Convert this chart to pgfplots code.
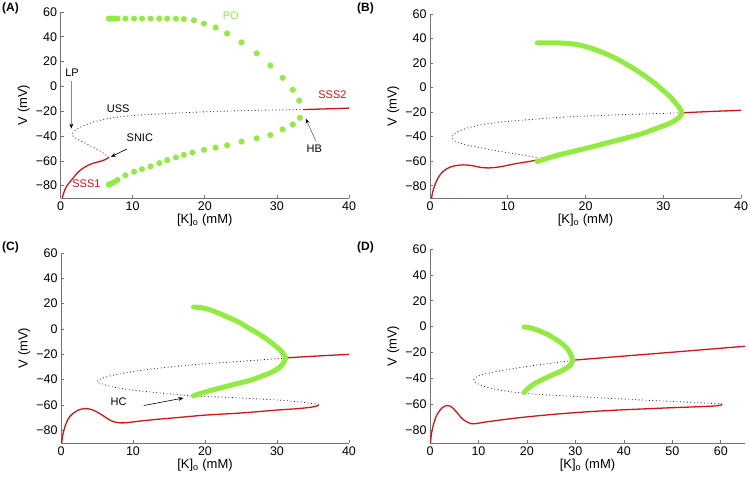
\documentclass[border=0pt]{standalone}
\usepackage{fontspec}
\setmainfont{Liberation Sans}
\usepackage{pgfplots}
\pgfplotsset{compat=1.18}
\usetikzlibrary{arrows.meta}
\definecolor{sred}{RGB}{205,22,22}
\definecolor{pogreen}{RGB}{145,235,65}
\newcommand{\fs}{\fontsize{12.5bp}{14bp}\selectfont}
\newcommand{\fl}{\fontsize{13bp}{15bp}\selectfont}
\newcommand{\fa}{\fontsize{11bp}{13bp}\selectfont}
\pgfplotsset{
 panel/.style={
  scale only axis,
  axis lines*=left,
  axis line style={-, black!55, line width=0.7bp},
  every tick/.style={black!55, line width=0.6bp},
  tick align=inside,
  major tick length=3bp,
  ymin=-90, ymax=60,
  ytick={-80,-60,-40,-20,0,20,40,60},
  yticklabels={−80,−60,−40,−20,0,20,40,60},
  tick label style={font=\fs},
  label style={font=\fl},
  xlabel style={yshift=3bp},
  ylabel style={yshift=-1bp},
  /pgf/number format/assume math mode=true,
  xlabel={[K]\textsubscript{o} (mM)},
  ylabel={V (mV)},
  clip=false,
  anchor=south west,
 },
 uss/.style={black!85, line width=0.85bp, dash pattern=on 0.85bp off 2.6bp, smooth},
 ssr/.style={sred, line width=1.3bp, smooth},
 pomark/.style={color=pogreen, only marks, mark=*, mark size=2.8bp, mark options={draw=none, fill=pogreen}},
 poband/.style={color=pogreen, line width=5bp, line cap=round, line join=round, smooth},
}
\begin{document}
\begin{tikzpicture}
\useasboundingbox (0,0) rectangle (750bp,-479bp);
% ---------------- (A)
\begin{axis}[panel, at={(60.5bp,-198bp)}, width=288.5bp, height=186bp,
  xmin=0, xmax=40, xtick={0,10,20,30,40}]
\addplot[uss] coordinates {(6.7,-57.3)(5.6,-52.5)(4.5,-49)(3.5,-46)(2.5,-43)(1.8,-40.5)(1.6,-39)(1.9,-36)(2.6,-33.5)(3.5,-31)(5,-28)(7,-25.5)(10,-23.5)(15,-21.8)(20,-20.5)(25,-19.6)(30,-19)(33.6,-18.7)};
\addplot[ssr] coordinates {(0.25,-90)(0.5,-85)(0.9,-80)(1.6,-75)(2.3,-70)(3,-66.5)(3.7,-64)(4.5,-62)(5.5,-60.5)(6.2,-59)(6.7,-57.3)};
\addplot[ssr] coordinates {(33.6,-18.7)(37,-18.1)(40,-17.5)};
\addplot[pomark] coordinates {(6.7,54.7)(7.0,54.7)(7.3,54.7)(7.6,54.7)(7.9,54.7)(9.0,54.7)(10.2,54.7)(11.3,54.7)(12.5,54.7)(13.7,54.7)(14.8,54.7)(16.0,54.6)(17.1,54.3)(18.5,53.3)(19.9,50.7)(21.5,47.5)(23.1,42.7)(25.1,35.5)(27.2,26.7)(29.1,16.8)(30.8,6.9)(32.2,-2.7)(33.1,-11.5)};
\addplot[pomark] coordinates {(33.2,-25.3)(32.2,-30.7)(30.8,-34.7)(29.1,-39.2)(27.2,-41.9)(25.1,-44.5)(23.1,-47.5)(21.5,-49.3)(19.9,-51.2)(18.3,-53.3)(17.1,-55.2)(16.0,-57.3)(14.8,-59.5)(13.7,-61.9)(12.5,-64.5)(11.3,-66.7)(10.2,-68.8)(9.0,-71.7)(7.9,-75.5)(7.4,-77.3)(7.0,-78.5)(6.7,-79.2)};
\node[font=\fa, text=pogreen] at (axis cs:23.6,57) {PO};
\node[font=\fa, text=sred] at (axis cs:37.7,-6.5) {SSS2};
\node[font=\fa] at (axis cs:8,-18) {USS};
\node[font=\fa] at (axis cs:1.6,11) {LP};
\node[font=\fa] at (axis cs:11,-41) {SNIC};
\node[font=\fa, text=sred] at (axis cs:3.6,-78.5) {SSS1};
\node[font=\fa] at (axis cs:35.2,-50.5) {HB};
\draw[black!45, line width=0.6bp, -{Stealth[black, length=5bp, width=4bp]}] (axis cs:1.5,4) -- (axis cs:1.5,-34);
\draw[black, line width=0.6bp, -{Stealth[length=5bp, width=4bp]}] (axis cs:9.2,-50.5) -- (axis cs:7.0,-56.8);
\draw[black!60, line width=0.6bp, -{Stealth[black, length=5bp, width=4bp]}] (axis cs:35.4,-44) -- (axis cs:34.0,-26);
\end{axis}
% ---------------- (B)
\begin{axis}[panel, at={(430bp,-198bp)}, width=311bp, height=184bp,
  xmin=0, xmax=40, xtick={0,10,20,30,40}]
\addplot[uss] coordinates {(13.7,-57)(11.5,-54.5)(9,-52)(6.5,-49)(4.5,-46.5)(3.3,-44)(2.8,-40.5)(3.3,-37)(4.3,-34)(6,-31)(8.5,-28.5)(12,-26.5)(16,-24.5)(20,-23.2)(25,-22)(30,-21)(32.5,-20.5)};
\addplot[ssr] coordinates {(0.2,-90)(0.35,-85)(0.6,-80)(1,-74)(1.5,-69.5)(2.2,-66)(3,-64)(4.2,-63)(5.3,-63.5)(6.5,-65)(7.5,-65.5)(8.5,-65)(9.5,-64)(11,-62)(12.5,-60.5)(13.8,-59)};
\addplot[ssr] coordinates {(32.5,-20.5)(36,-19.5)(40,-18.5)};
\addplot[poband] coordinates {(13.8,36.5)(15,36.5)(16,36.5)(17,36.3)(18,35.8)(19,35)(20,33.5)(21,31.5)(22,29.2)(23,26.5)(24,23.5)(25,20)(26,16.3)(27,12.2)(28,7.8)(29,3)(30,-2.5)(30.9,-7.5)(31.5,-12)(32.1,-16.5)(32.4,-20.5)};
\addplot[poband] coordinates {(32.4,-21)(32,-24.5)(31.2,-28)(30.3,-30.5)(29,-33.5)(27.3,-37.5)(25,-41.5)(23,-44.7)(21,-48)(18.7,-51.6)(16.5,-55)(15,-57.8)(13.8,-60.3)};
\end{axis}
% ---------------- (C)
\begin{axis}[panel, at={(61bp,-443bp)}, width=288bp, height=190bp,
  xmin=0, xmax=40, xtick={0,10,20,30,40}]
\addplot[uss] coordinates {(35.8,-59.5)(33,-57.5)(30,-56)(25,-54.5)(20,-53.2)(18.5,-52.8)(15,-51.2)(12,-49.5)(9,-47.5)(7,-45.5)(5.8,-43.5)(5,-42)(5.3,-40)(6.5,-37.5)(9,-34.5)(12,-32)(16,-29.5)(20,-27.5)(25,-25.5)(31.2,-23)};
\addplot[ssr] coordinates {(0.1,-90)(0.25,-84)(0.5,-78)(1,-71)(1.6,-67)(2.4,-64)(3.3,-62.8)(4.2,-63.5)(5,-65.5)(6,-69)(7,-72.5)(8,-74)(9,-74)(10.5,-73)(13,-71.5)(16,-70)(20,-68)(25,-66.3)(30,-64)(33,-62.8)(35,-61.5)(35.8,-60.3)};
\addplot[ssr] coordinates {(31.2,-22.8)(35,-21.5)(40,-20)};
\addplot[poband] coordinates {(18.4,17.4)(19.5,16.8)(20.5,15.5)(21.7,13)(23,9.8)(24.5,6)(26,1)(27.5,-4)(28.8,-9)(29.8,-13.5)(30.6,-17.5)(31.2,-22.6)};
\addplot[poband] coordinates {(31.2,-23)(30.8,-27.5)(30.2,-31)(29.3,-34)(28,-37)(26.3,-40.5)(24.5,-43)(22.5,-46)(20.5,-49)(18.4,-52.7)};
\node[font=\fa] at (axis cs:8,-57.2) {HC};
\draw[black, line width=0.6bp, -{Stealth[length=5bp, width=4bp]}] (axis cs:11.5,-60.4) -- (axis cs:17,-54.5);
\end{axis}
% ---------------- (D)
\begin{axis}[panel, at={(430bp,-443bp)}, width=315bp, height=194bp,
  xmin=0, xmax=65, xtick={0,10,20,30,40,50,60}]
\addplot[uss] coordinates {(60.3,-59.8)(55,-58.8)(50,-57.8)(45,-57)(40,-56)(35,-55)(30,-54)(25,-53)(20,-51.8)(16,-50)(13,-48)(11,-46)(9.5,-43.5)(9,-41.5)(9.5,-39)(11,-37)(14,-34.5)(18,-32)(22,-29.8)(26,-27.8)(29.4,-26.2)};
\addplot[ssr] coordinates {(0.1,-90)(0.3,-83)(0.7,-76)(1.2,-70)(1.8,-66)(2.6,-62.5)(3.5,-61)(4.2,-61.5)(5,-64)(5.8,-67.5)(6.6,-71)(7.5,-73.5)(8.5,-75)(9.5,-75)(11,-74)(13,-73)(16,-71.5)(20,-69.8)(25,-68)(30,-66.5)(35,-65.3)(40,-64.3)(45,-63.5)(50,-62.7)(55,-62)(59,-61.3)(60.3,-60.3)};
\addplot[ssr] coordinates {(29.4,-26)(40,-22.8)(50,-19.8)(65,-15.2)};
\addplot[poband] coordinates {(19.4,-0.3)(20.5,-0.8)(21.8,-2.2)(23.1,-4.1)(24.5,-6.5)(25.8,-9.5)(27.2,-13)(28.3,-17)(29,-21)(29.4,-25.5)};
\addplot[poband] coordinates {(29.4,-26.5)(29,-29.5)(28.2,-32)(27,-34.5)(25.8,-36.5)(24,-39.5)(21.7,-43.8)(20.3,-47.5)(19.4,-51)};
\end{axis}
\node[anchor=north west, inner sep=0pt, font=\bfseries\fontsize{12bp}{14bp}\selectfont] at (2bp,-3bp) {(A)};
\node[anchor=north west, inner sep=0pt, font=\bfseries\fontsize{12bp}{14bp}\selectfont] at (357bp,-3bp) {(B)};
\node[anchor=north west, inner sep=0pt, font=\bfseries\fontsize{12bp}{14bp}\selectfont] at (2bp,-242bp) {(C)};
\node[anchor=north west, inner sep=0pt, font=\bfseries\fontsize{12bp}{14bp}\selectfont] at (357bp,-242bp) {(D)};
\end{tikzpicture}
\end{document}
